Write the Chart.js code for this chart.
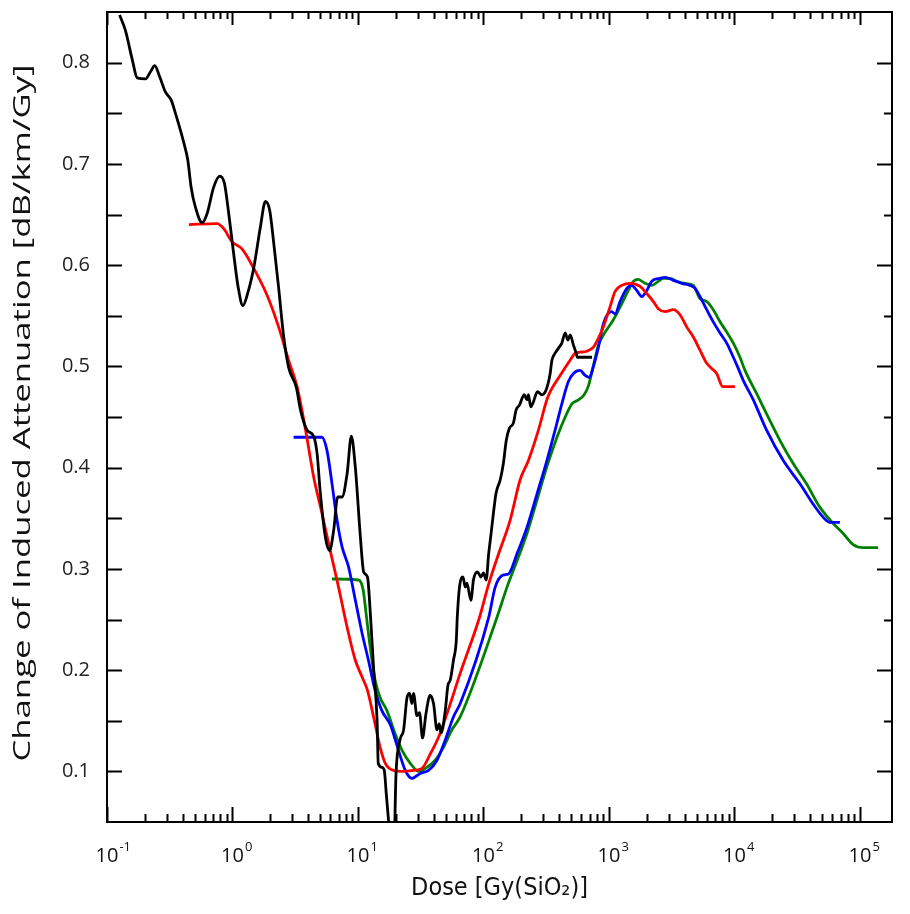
<!DOCTYPE html>
<html>
<head>
<meta charset="utf-8">
<script src="https://cdn.jsdelivr.net/npm/chart.js@4/dist/chart.umd.min.js"></script>
<style>
  html, body { margin: 0; padding: 0; background: #fff; }
  #wrap { width: 910px; height: 914px; }
</style>
</head>
<body>
<div id="wrap"><canvas id="grafico" width="910" height="914"></canvas></div>
<script>
// values: dose in Gy(SiO2), attenuation change in dB/km/Gy
const blackDose = [0.126, 0.140, 0.159, 0.174, 0.203, 0.222, 0.240, 0.263, 0.292, 0.325,
  0.351, 0.409, 0.440, 0.468, 0.507, 0.573, 0.628, 0.708, 0.791, 0.862,
  0.933, 1.02, 1.11, 1.21, 1.32, 1.48, 1.67, 1.83, 1.98, 2.13,
  2.33, 2.56, 2.80, 3.23, 3.48, 3.93, 4.43, 4.72, 5.01, 5.50,
  5.94, 6.40, 6.89, 7.46, 8.19, 8.85, 9.53, 10.4, 11.1, 11.9,
  12.6, 13.3, 14.2, 14.5, 15.5, 16.2, 16.8, 17.5, 18.3, 19.3,
  20.1, 21.6, 23.1, 24.6, 25.8, 26.9, 27.7, 29.5, 30.9, 32.7,
  34.8, 37.6, 40.0, 42.6, 44.4, 46.0, 49.6, 52.1, 54.3, 57.7,
  60.7, 61.8, 64.4, 68.6, 71.6, 73.8, 79.4, 83.2, 89.5, 95.3,
  100, 105, 110, 115, 120, 126, 136, 144, 152, 161,
  173, 182, 194, 211, 222, 228, 238, 250, 269, 292,
  316, 340, 351, 372, 396, 421, 448, 470, 491, 521,
  548, 559, 733];
const blackAtt = [0.847, 0.832, 0.803, 0.785, 0.784, 0.791, 0.797, 0.786, 0.771, 0.763,
  0.750, 0.721, 0.704, 0.677, 0.657, 0.642, 0.651, 0.677, 0.688, 0.681,
  0.651, 0.612, 0.578, 0.560, 0.572, 0.598, 0.638, 0.663, 0.654, 0.622,
  0.578, 0.529, 0.499, 0.479, 0.457, 0.437, 0.431, 0.414, 0.375, 0.331,
  0.318, 0.338, 0.371, 0.371, 0.394, 0.431, 0.400, 0.335, 0.297, 0.292,
  0.252, 0.203, 0.150, 0.108, 0.104, 0.101, 0.078, 0.052, 0.020, 0.020,
  0.098, 0.131, 0.141, 0.173, 0.177, 0.167, 0.177, 0.155, 0.158, 0.133,
  0.157, 0.175, 0.167, 0.141, 0.147, 0.138, 0.160, 0.185, 0.190, 0.210,
  0.229, 0.252, 0.282, 0.292, 0.282, 0.286, 0.269, 0.289, 0.297, 0.292,
  0.296, 0.289, 0.315, 0.335, 0.355, 0.375, 0.388, 0.404, 0.427, 0.439,
  0.444, 0.457, 0.462, 0.472, 0.467, 0.472, 0.460, 0.465, 0.475, 0.472,
  0.477, 0.493, 0.506, 0.513, 0.518, 0.523, 0.533, 0.526, 0.531, 0.521,
  0.513, 0.509, 0.509];

const redDose = [0.45, 0.754, 0.851, 0.993, 1.19, 1.43, 1.89, 2.33, 2.80, 3.27,
  3.80, 4.43, 5.16, 6.01, 7.00, 8.17, 9.51, 10.8, 11.9, 13.3,
  15.0, 16.5, 19.2, 23.1, 27.7, 32.4, 37.6, 43.9, 51.2, 65.3,
  92.9, 110, 132, 163, 196, 228, 274, 320, 340, 408,
  490, 537, 589, 665, 752, 824, 902, 1021, 1119, 1265,
  1472, 1770, 2000, 2259, 2472, 2799, 3258, 3681, 4159, 4699,
  5309, 6012, 6577, 7211, 8054, 10090];
const redAtt = [0.640, 0.641, 0.636, 0.623, 0.616, 0.600, 0.570, 0.539, 0.506, 0.480,
  0.439, 0.391, 0.355, 0.318, 0.282, 0.243, 0.210, 0.193, 0.180, 0.154,
  0.124, 0.108, 0.101, 0.100, 0.101, 0.103, 0.117, 0.134, 0.157, 0.197,
  0.252, 0.285, 0.315, 0.348, 0.388, 0.407, 0.437, 0.467, 0.475, 0.491,
  0.506, 0.513, 0.514, 0.515, 0.519, 0.528, 0.539, 0.559, 0.574, 0.580,
  0.582, 0.579, 0.572, 0.564, 0.557, 0.554, 0.556, 0.551, 0.539, 0.529,
  0.516, 0.503, 0.498, 0.493, 0.480, 0.480];

const blueDose = [3.07, 5.16, 5.66, 6.21, 6.81, 7.46, 8.41, 9.53, 10.8, 12.1,
  13.7, 15.5, 18.1, 21.0, 23.8, 26.9, 31.3, 36.5, 42.6, 49.6,
  57.7, 65.3, 110, 124, 144, 158, 185, 222, 267, 320,
  372, 421, 475, 521, 589, 646, 698, 752, 824, 902,
  1045, 1119, 1225, 1387, 1518, 1663, 1824, 2000, 2193, 2553,
  2799, 3258, 3802, 4426, 4853, 5309, 6012, 6776, 7674, 8670,
  9795, 10720, 11770, 14130, 18030, 24490, 33270, 42360, 50930, 57540,
  69180];
const blueAtt = [0.430, 0.430, 0.417, 0.384, 0.348, 0.322, 0.302, 0.269, 0.236, 0.210,
  0.180, 0.160, 0.146, 0.121, 0.101, 0.093, 0.098, 0.101, 0.111, 0.131,
  0.154, 0.167, 0.252, 0.282, 0.294, 0.295, 0.315, 0.341, 0.374, 0.407,
  0.437, 0.463, 0.485, 0.493, 0.496, 0.491, 0.489, 0.500, 0.519, 0.542,
  0.554, 0.552, 0.564, 0.577, 0.580, 0.575, 0.569, 0.575, 0.584, 0.587,
  0.588, 0.585, 0.582, 0.580, 0.577, 0.569, 0.556, 0.544, 0.533, 0.523,
  0.509, 0.498, 0.486, 0.467, 0.437, 0.407, 0.384, 0.364, 0.351, 0.346,
  0.346];

const greenDose = [6.21, 10.1, 11.0, 11.6, 12.5, 13.7, 15.0, 17.0, 19.8, 22.4,
  26.1, 30.4, 35.4, 41.2, 48.1, 56.0, 65.3, 128, 154, 185,
  222, 267, 320, 385, 448, 507, 572, 634, 687, 752,
  824, 902, 1084, 1265, 1426, 1563, 1714, 1936, 2193, 2472,
  2710, 3062, 3467, 4036, 4699, 5309, 6012, 6776, 7674, 8670,
  9795, 11070, 12130, 15030, 18030, 23010, 29380, 37500, 47860, 61090,
  73450, 88310, 105900, 139300];
const greenAtt = [0.290, 0.289, 0.279, 0.256, 0.223, 0.190, 0.173, 0.160, 0.137, 0.121,
  0.108, 0.100, 0.104, 0.111, 0.124, 0.141, 0.154, 0.252, 0.282, 0.308,
  0.335, 0.368, 0.401, 0.430, 0.450, 0.463, 0.467, 0.472, 0.481, 0.501,
  0.521, 0.531, 0.546, 0.562, 0.575, 0.584, 0.586, 0.582, 0.580, 0.584,
  0.587, 0.587, 0.584, 0.582, 0.580, 0.567, 0.564, 0.556, 0.544, 0.534,
  0.523, 0.509, 0.496, 0.473, 0.453, 0.427, 0.404, 0.384, 0.361, 0.345,
  0.335, 0.324, 0.321, 0.321];

// axes
const xMin = 0.1, xMax = 180000;
const yMin = 0.05, yMax = 0.85;
const xTickExponents = [-1, 0, 1, 2, 3, 4, 5];
const yTickValues = [0.1, 0.2, 0.3, 0.4, 0.5, 0.6, 0.7, 0.8];
const yMinorValues = [0.15, 0.25, 0.35, 0.45, 0.55, 0.65, 0.75];
const xTitle = 'Dose [Gy(SiO\u2082)]';
const yTitle = 'Change of Induced Attenuation [dB/km/Gy]';

function pontos(doses, valores) {
    return doses.map((d, i) => ({ x: d, y: valores[i] }));
}

function serie(doses, valores, cor) {
    return {
        data: pontos(doses, valores),
        borderColor: cor,
        borderWidth: 2.8,
        pointRadius: 0,
        fill: false,
        cubicInterpolationMode: 'monotone'
    };
}

const fonteTick = '"Open Sans", sans-serif';
const fonteTitulo = '"DejaVu Sans Condensed", "Open Sans", sans-serif';

// frame with inward ticks on all four sides, x labels with superscripts, y title
const molduraPlugin = {
    id: 'moldura',
    afterDatasetsDraw(chart) {
        const { ctx, chartArea: a, scales: { x, y } } = chart;
        ctx.save();
        ctx.strokeStyle = '#000';
        ctx.lineWidth = 2;
        ctx.strokeRect(a.left, a.top, a.right - a.left, a.bottom - a.top);

        ctx.beginPath();
        xTickExponents.forEach(e => {
            const dec = Math.pow(10, e);
            const px = Math.round(x.getPixelForValue(dec)) + 0.5;
            ctx.moveTo(px, a.bottom); ctx.lineTo(px, a.bottom - 15);
            ctx.moveTo(px, a.top); ctx.lineTo(px, a.top + 13);
            for (let k = 2; k <= 9; k++) {
                const v = k * dec;
                if (v >= xMax) break;
                const pm = Math.round(x.getPixelForValue(v)) + 0.5;
                ctx.moveTo(pm, a.bottom); ctx.lineTo(pm, a.bottom - 8);
                ctx.moveTo(pm, a.top); ctx.lineTo(pm, a.top + 7);
            }
        });
        yTickValues.forEach(v => {
            const py = Math.round(y.getPixelForValue(v)) + 0.5;
            ctx.moveTo(a.left, py); ctx.lineTo(a.left + 15, py);
            ctx.moveTo(a.right, py); ctx.lineTo(a.right - 15, py);
        });
        yMinorValues.forEach(v => {
            const py = Math.round(y.getPixelForValue(v)) + 0.5;
            ctx.moveTo(a.left, py); ctx.lineTo(a.left + 15, py);
            ctx.moveTo(a.right, py); ctx.lineTo(a.right - 8, py);
        });
        ctx.stroke();

        ctx.fillStyle = '#111';
        ctx.textBaseline = 'alphabetic';
        xTickExponents.forEach(e => {
            const px = x.getPixelForValue(Math.pow(10, e));
            ctx.font = '20px ' + fonteTick;
            ctx.textAlign = 'center';
            ctx.fillText('10', px, a.bottom + 40);
            const w = ctx.measureText('10').width;
            ctx.font = '13px ' + fonteTick;
            ctx.textAlign = 'left';
            ctx.fillText(String(e), px + w / 2 + 1, a.bottom + 29);
        });

        // y title: the original is stretched along its reading direction (~697px long)
        ctx.font = '24px ' + fonteTick;
        const esticar = 697 / ctx.measureText(yTitle).width;
        ctx.translate(23, (a.top + a.bottom) / 2 - 4);
        ctx.rotate(-Math.PI / 2);
        ctx.scale(esticar, 1);
        ctx.textAlign = 'center';
        ctx.textBaseline = 'middle';
        ctx.fillText(yTitle, 0, 0);
        ctx.restore();
    }
};

const ctx = document.getElementById('grafico').getContext('2d');
new Chart(ctx, {
    type: 'line',
    data: {
        datasets: [
            serie(blackDose, blackAtt, '#000000'),
            serie(redDose, redAtt, '#ff0000'),
            serie(blueDose, blueAtt, '#0000ff'),
            serie(greenDose, greenAtt, '#008000')
        ]
    },
    options: {
        responsive: false,
        animation: false,
        layout: { padding: { top: 12, right: 18, left: 0, bottom: 0 } },
        plugins: {
            legend: { display: false },
            tooltip: { enabled: false }
        },
        scales: {
            x: {
                type: 'logarithmic',
                min: xMin,
                max: xMax,
                grid: { display: false, drawTicks: false },
                border: { display: false },
                ticks: { display: false },
                title: {
                    display: true,
                    text: xTitle,
                    color: '#111',
                    font: { family: fonteTitulo, size: 25 },
                    padding: { top: 0, bottom: 11 }
                },
                afterFit(scale) {
                    scale.height = 92;
                    scale.paddingLeft = 0;
                    scale.paddingRight = 0;
                }
            },
            y: {
                type: 'linear',
                min: yMin,
                max: yMax,
                grid: { display: false, drawTicks: false },
                border: { display: false },
                afterBuildTicks(scale) {
                    scale.ticks = yTickValues.map(v => ({ value: v }));
                },
                ticks: {
                    color: '#222',
                    padding: 17,
                    font: { family: fonteTick, size: 20 },
                    callback: v => v.toFixed(1)
                },
                afterFit(scale) {
                    scale.width = 107;
                    scale.paddingTop = 0;
                    scale.paddingBottom = 0;
                }
            }
        }
    },
    plugins: [molduraPlugin]
});
</script>
</body>
</html>
